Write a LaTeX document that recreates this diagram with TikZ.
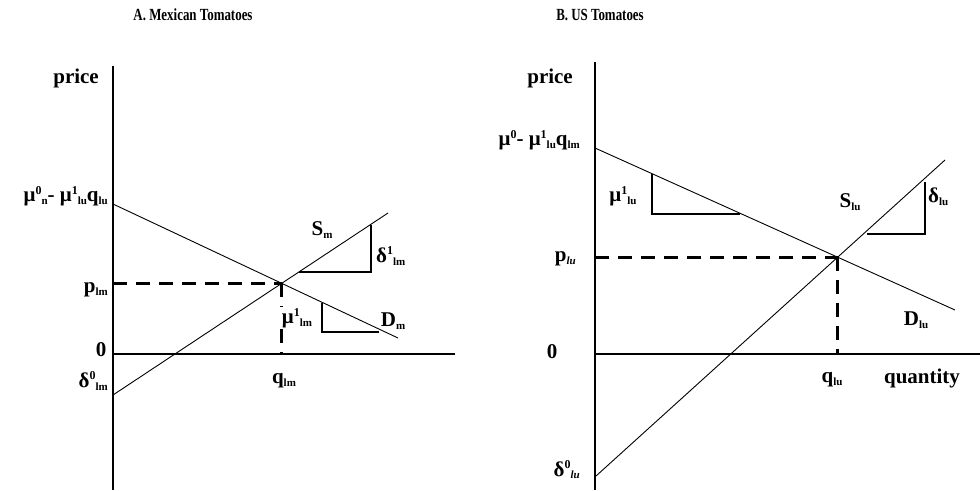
\documentclass[tikz,border=0pt]{standalone}
\usepackage{fontspec}
\setmainfont{Liberation Serif}
\newfontfamily\ttlfont[FakeStretch=0.76]{Liberation Serif}
\usetikzlibrary{positioning}
\newcommand{\lsub}[1]{\raisebox{-0.3ex}{\fontsize{11}{11}\selectfont #1}}
\newcommand{\lsup}[1]{\raisebox{0.75ex}{\fontsize{12}{12}\selectfont #1}}

\begin{document}
\begin{tikzpicture}[x=1pt, y=-1pt,
      axis/.style = {line width=2.6pt},
     curve/.style = {line width=0.9pt},
     guide/.style = {line width=3pt, dash pattern=on 14pt off 9pt},
     slope/.style = {line width=1.3pt},
       lbl/.style = {font=\bfseries\fontsize{21}{23}\selectfont, inner sep=0pt},
       ttl/.style = {font=\ttlfont\bfseries\fontsize{17}{19}\selectfont, inner sep=0pt}
                   ]
    \useasboundingbox (0,0) rectangle (980,490);

    % A. Mexican tomatoes
    \node (ttlA) at (193,15) [ttl] {A. Mexican Tomatoes};

    \coordinate (yA0) at (113,490);
    \coordinate (yA1) at (113,66);
    \coordinate (xA0) at (113,354);
    \coordinate (xA1) at (455,354);
    \draw[axis] (yA0) -- (yA1);
    \draw[axis] (xA0) -- (xA1);

    % demand and supply
    \coordinate (Dm0) at (113,204);
    \coordinate (Dm1) at (398,338);
    \coordinate (Sm0) at (113,395);
    \coordinate (Sm1) at (388,213);
    \draw[curve] (Dm0) -- (Dm1);
    \draw[curve] (Sm0) -- (Sm1);
    \coordinate (Em) at (intersection of Dm0--Dm1 and Sm0--Sm1);

    % equilibrium
    \coordinate (pm) at (yA0 |- Em);
    \coordinate (qm) at (Em |- xA0);
    \draw[guide] (pm) -- (Em);
    \draw[guide] (Em) -- (qm);

    % slope triangles
    \coordinate (tS0) at (299,272);
    \coordinate (tS1) at (371,272);
    \coordinate (tS2) at (371,225);
    \draw[slope] (tS0) -- (tS1) -- (tS2);
    \coordinate (tD0) at (322,303);
    \coordinate (tD1) at (322,332);
    \coordinate (tD2) at (379,332);
    \draw[slope] (tD0) -- (tD1) -- (tD2);

    \node (priceA) at (99,78) [lbl, anchor=east] {price};
    \node (intA) at (108,196) [lbl, anchor=east] {μ\lsup{0}\lsub{n}- μ\lsup{1}\lsub{lu}q\lsub{lu}};
    \node (pA) at (108,290) [lbl, anchor=east] {p\lsub{lm}};
    \node (zeroA) at (101,350) [lbl] {0};
    \node (dA) at (108,381) [lbl, anchor=east] {δ\lsup{0}\lsub{lm}};
    \node (qA) at (284,381) [lbl] {q\lsub{lm}};
    \node (Sm) at (322,230) [lbl] {S\lsub{m}};
    \node (dsA) at (376,256) [lbl, anchor=west] {δ\lsup{1}\lsub{lm}};
    \node (muA) at (297,318) [lbl, fill=white, inner xsep=5pt, inner ysep=1pt] {μ\lsup{1}\lsub{lm}};
    \node (Dm) at (393,321) [lbl] {D\lsub{m}};

    % B. US tomatoes
    \node (ttlB) at (600,15) [ttl] {B. US Tomatoes};

    \coordinate (yB0) at (595,490);
    \coordinate (yB1) at (595,62);
    \coordinate (xB0) at (595,354);
    \coordinate (xB1) at (980,354);
    \draw[axis] (yB0) -- (yB1);
    \draw[axis] (xB0) -- (xB1);

    \coordinate (Du0) at (595,148);
    \coordinate (Du1) at (955,310);
    \coordinate (Su0) at (596,476);
    \coordinate (Su1) at (945,160);
    \draw[curve] (Du0) -- (Du1);
    \draw[curve] (Su0) -- (Su1);
    \coordinate (Eu) at (intersection of Du0--Du1 and Su0--Su1);

    \coordinate (pu) at (yB0 |- Eu);
    \coordinate (qu) at (Eu |- xB0);
    \draw[guide] (pu) -- (Eu);
    \draw[guide] (Eu) -- (qu);

    \coordinate (uD0) at (652,174);
    \coordinate (uD1) at (652,214);
    \coordinate (uD2) at (740,214);
    \draw[slope] (uD0) -- (uD1) -- (uD2);
    \coordinate (uS0) at (867,234);
    \coordinate (uS1) at (925,234);
    \coordinate (uS2) at (925,182);
    \draw[slope] (uS0) -- (uS1) -- (uS2);

    \node (priceB) at (573,78) [lbl, anchor=east] {price};
    \node (intB) at (580,140) [lbl, anchor=east] {μ\lsup{0}- μ\lsup{1}\lsub{lu}q\lsub{lm}};
    \node (pB) at (576,259) [lbl, anchor=east] {p\lsub{\itshape lu}};
    \node (zeroB) at (552,352) [lbl] {0};
    \node (dB) at (580,470) [lbl, anchor=east] {δ\lsup{0}\lsub{\itshape lu}};
    \node (qB) at (832,380) [lbl] {q\lsub{lu}};
    \node (quant) at (922,378) [lbl] {quantity};
    \node (Su) at (850,202) [lbl] {S\lsub{lu}};
    \node (dsB) at (928,197) [lbl, anchor=west] {δ\lsub{lu}};
    \node (muB) at (623,196) [lbl] {μ\lsup{1}\lsub{lu}};
    \node (Du) at (916,320) [lbl] {D\lsub{lu}};
\end{tikzpicture}
\end{document}
